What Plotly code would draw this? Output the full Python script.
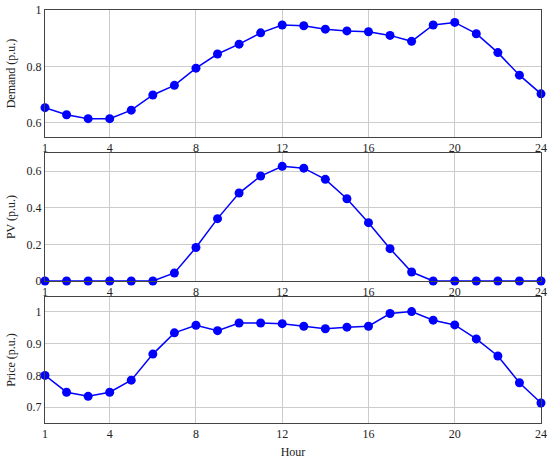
import plotly.graph_objects as go

hours = list(range(1, 25))
demand = [0.654, 0.629, 0.615, 0.615, 0.645, 0.699, 0.733, 0.794, 0.844, 0.879, 0.919, 0.947,
          0.944, 0.932, 0.926, 0.923, 0.910, 0.889, 0.947, 0.956, 0.916, 0.849, 0.769, 0.703]
pv = [0, 0, 0, 0, 0, 0, 0.044, 0.183, 0.341, 0.481, 0.574, 0.627,
      0.617, 0.556, 0.450, 0.319, 0.177, 0.049, 0, 0, 0, 0, 0, 0]
price = [0.800, 0.747, 0.734, 0.747, 0.785, 0.867, 0.934, 0.958, 0.941, 0.965, 0.965, 0.963,
         0.955, 0.947, 0.952, 0.955, 0.995, 1.001, 0.974, 0.959, 0.915, 0.861, 0.777, 0.713]
x_ticks = [1, 4, 8, 12, 16, 20, 24]

FONT = "Liberation Serif"
BLUE = "#0000ff"
TXT = "#222222"

fig = go.Figure()
series = [(demand, "x", "y"), (pv, "x2", "y2"), (price, "x3", "y3")]
for vals, xa, ya in series:
    fig.add_trace(go.Scatter(x=hours, y=vals, xaxis=xa, yaxis=ya, mode="lines+markers",
                             line=dict(color=BLUE, width=1.5),
                             marker=dict(color=BLUE, size=9),
                             cliponaxis=False, showlegend=False))

axis_common = dict(showline=True, linecolor="#444", linewidth=1, mirror=True,
                   showgrid=True, gridcolor="#cccccc", gridwidth=1, zeroline=False,
                   ticks="", automargin=False,
                   tickfont=dict(family=FONT, size=12, color=TXT))

domains = [(0.6925, 1.0), (0.3438, 0.6538), (0.0, 0.3051)]
yranges = [[0.55, 1.0], [0, 0.7], [0.65, 1.047]]
yticks = [([0.6, 0.8, 1.0], ["0.6", "0.8", "1"]),
          ([0, 0.2, 0.4, 0.6], ["0", "0.2", "0.4", "0.6"]),
          ([0.7, 0.8, 0.9, 1.0], ["0.7", "0.8", "0.9", "1"])]
ytitles = ["Demand (p.u.)", "PV (p.u.)", "Price (p.u.)"]

layout = {}
for i in range(3):
    sx = "" if i == 0 else str(i + 1)
    layout["xaxis" + sx] = dict(axis_common, domain=[0, 1], range=[1, 24], tickvals=x_ticks,
                                anchor="y" + sx)
    layout["yaxis" + sx] = dict(axis_common, domain=list(domains[i]), range=yranges[i],
                                tickvals=yticks[i][0], ticktext=yticks[i][1], anchor="x" + sx,
                                title=dict(text=ytitles[i], font=dict(family=FONT, size=12, color=TXT),
                                           standoff=8))
layout["xaxis3"]["title"] = dict(text="Hour", font=dict(family=FONT, size=12, color=TXT), standoff=7)

fig.update_layout(**layout)
fig.update_layout(width=550, height=460, margin=dict(l=45, r=9, t=10, b=37, autoexpand=False),
                  plot_bgcolor="white", paper_bgcolor="white",
                  font=dict(family=FONT, size=12, color=TXT))
fig.write_html("out.html", config={"displayModeBar": False},
               post_script="document.body.style.margin='0';document.body.style.overflow='hidden';")
